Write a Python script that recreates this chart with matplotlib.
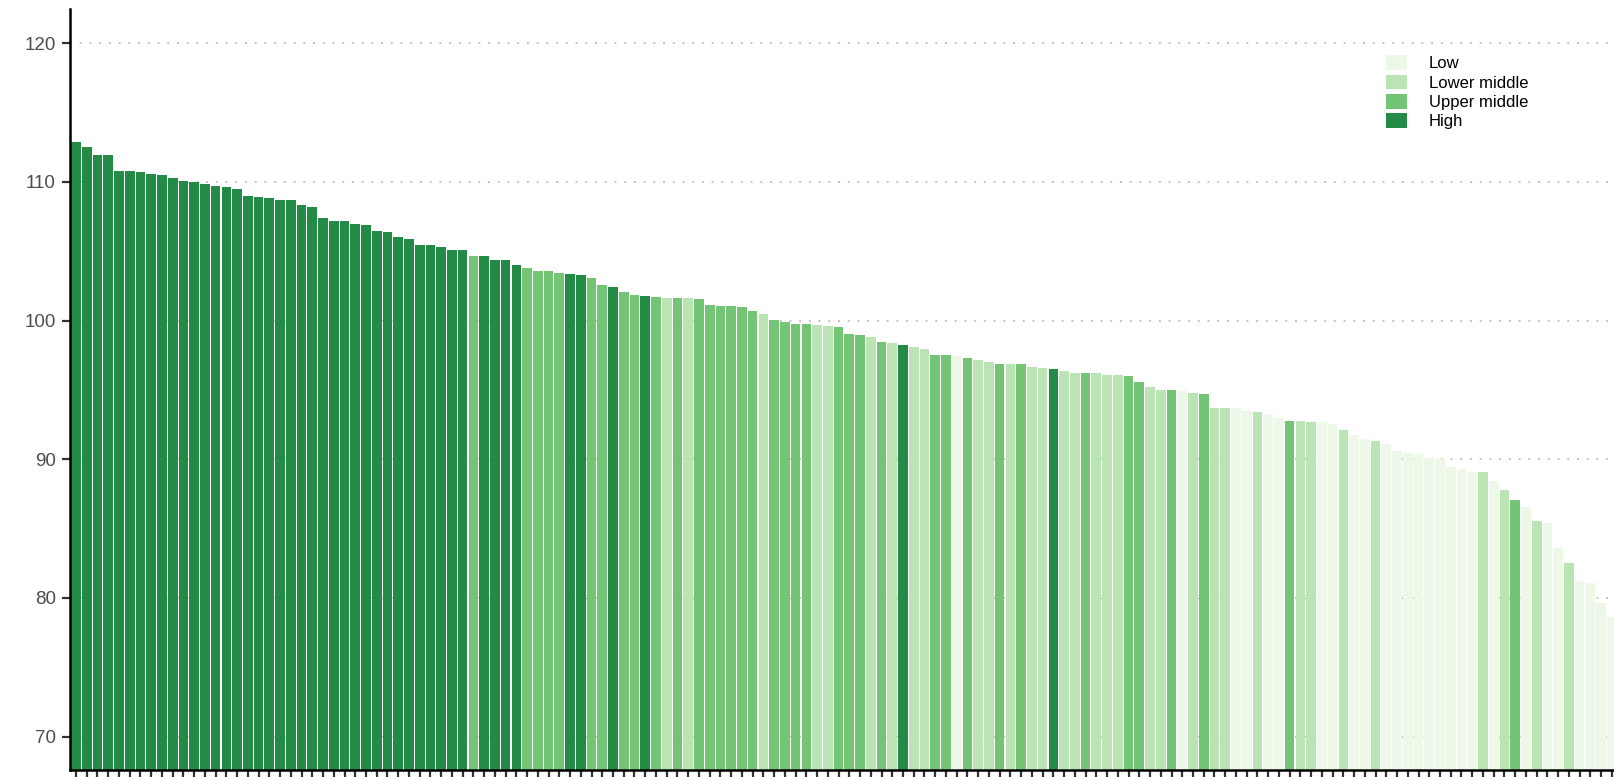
import matplotlib
matplotlib.use('Agg')
from matplotlib import pyplot as plt
from matplotlib.patches import Patch
import numpy as np

# значения столбцов (уже отсортированы по убыванию)
values = [
    112.84, 112.52, 111.92, 111.92, 110.77, 110.77, 110.70, 110.60, 110.48, 110.27,
    110.07, 109.98, 109.88, 109.69, 109.64, 109.45, 108.97, 108.90, 108.85, 108.66,
    108.66, 108.30, 108.18, 107.36, 107.17, 107.17, 106.97, 106.88, 106.45, 106.40,
    105.99, 105.87, 105.42, 105.42, 105.30, 105.08, 105.08, 104.69, 104.64, 104.35,
    104.35, 104.01, 103.82, 103.58, 103.58, 103.44, 103.36, 103.31, 103.07, 102.55,
    102.40, 102.07, 101.83, 101.76, 101.71, 101.66, 101.61, 101.61, 101.56, 101.11,
    101.06, 101.06, 100.97, 100.70, 100.48, 100.07, 99.91, 99.78, 99.78, 99.69,
    99.64, 99.52, 99.03, 98.95, 98.84, 98.42, 98.37, 98.22, 98.13, 97.94,
    97.53, 97.53, 97.41, 97.31, 97.14, 97.00, 96.90, 96.88, 96.88, 96.62,
    96.57, 96.52, 96.33, 96.21, 96.21, 96.21, 96.11, 96.07, 96.02, 95.58,
    95.20, 95.03, 94.99, 94.94, 94.77, 94.70, 93.71, 93.71, 93.68, 93.45,
    93.41, 93.30, 92.96, 92.77, 92.77, 92.72, 92.67, 92.53, 92.09, 91.78,
    91.44, 91.35, 91.08, 90.60, 90.43, 90.36, 90.07, 90.02, 89.42, 89.28,
    89.11, 89.11, 88.41, 87.78, 87.04, 86.56, 85.52, 85.43, 83.57, 82.49,
    81.26, 81.10, 79.67, 78.61,
]

# группа дохода: L - Low, LM - Lower middle, UM - Upper middle, H - High
groups = (
    ['H'] * 37 +
    ['UM', 'H', 'H', 'H', 'H', 'UM', 'UM', 'UM', 'UM', 'H',
     'H', 'UM', 'UM', 'H', 'UM', 'UM', 'H', 'UM', 'LM', 'UM',
     'LM', 'UM', 'UM', 'UM', 'UM', 'UM', 'UM', 'LM', 'UM', 'UM',
     'UM', 'UM', 'LM', 'LM', 'UM', 'UM', 'UM', 'LM', 'UM', 'LM',
     'H', 'LM', 'LM', 'UM', 'UM', 'L', 'UM', 'LM', 'LM', 'UM',
     'LM', 'UM', 'LM', 'LM', 'H', 'LM', 'LM', 'UM', 'LM', 'LM',
     'LM', 'UM', 'UM', 'LM', 'LM', 'UM', 'L', 'LM', 'UM', 'LM',
     'LM', 'L', 'L', 'LM', 'L', 'L', 'UM', 'LM', 'LM', 'L',
     'L', 'LM', 'L', 'L', 'LM', 'L', 'L', 'L', 'L', 'L',
     'L', 'L', 'L', 'L', 'LM', 'L', 'LM', 'UM', 'L', 'LM',
     'L', 'L', 'LM', 'L', 'L', 'L', 'L']
)

group_names = ['Low', 'Lower middle', 'Upper middle', 'High']
group_keys = ['L', 'LM', 'UM', 'H']
group_colors = ['#edf8e9', '#bae4b3', '#74c476', '#238b45']
color_map = dict(zip(group_keys, group_colors))

y_ticks = [70, 80, 90, 100, 110, 120]

fig = plt.figure(figsize=(16.14, 7.77), dpi=100)
ax = fig.add_axes([0.0431, 0.009, 0.9569, 0.9794])

x = np.arange(1, len(values) + 1)
ax.bar(x, values, width=0.9, color=[color_map[g] for g in groups], zorder=2)

ax.set_xlim(0.4, 144.2)
ax.set_ylim(67.6, 122.46)

ax.set_yticks(y_ticks)
ax.set_xticks(x)
ax.set_xticklabels([])
ax.tick_params(axis='y', labelsize=13.5, labelcolor='#4d4d4d', length=6, width=1.6,
               color='#333333', pad=4)
ax.tick_params(axis='x', length=6, width=1.6, color='#333333')
for lab in ax.get_yticklabels():
    lab.set_family(['Liberation Sans', 'DejaVu Sans'])

ax.grid(axis='y', color='#c4c4c4', linewidth=1.4, linestyle=(0, (1, 4)), zorder=0)
ax.grid(axis='x', visible=False)

for side in ['top', 'right']:
    ax.spines[side].set_visible(False)
for side in ['left', 'bottom']:
    ax.spines[side].set_linewidth(1.8)
    ax.spines[side].set_color('black')

handles = [Patch(facecolor=c, edgecolor='none') for c in group_colors]
ax.legend(handles, group_names, loc='upper left', bbox_to_anchor=(0.8525, 0.939),
          frameon=False, borderaxespad=0, borderpad=0,
          handlelength=1.26, handleheight=0.96, handletextpad=1.3, labelspacing=0.2,
          prop={'family': ['Liberation Sans', 'DejaVu Sans'], 'size': 12})

plt.savefig('out.png', dpi=100)
